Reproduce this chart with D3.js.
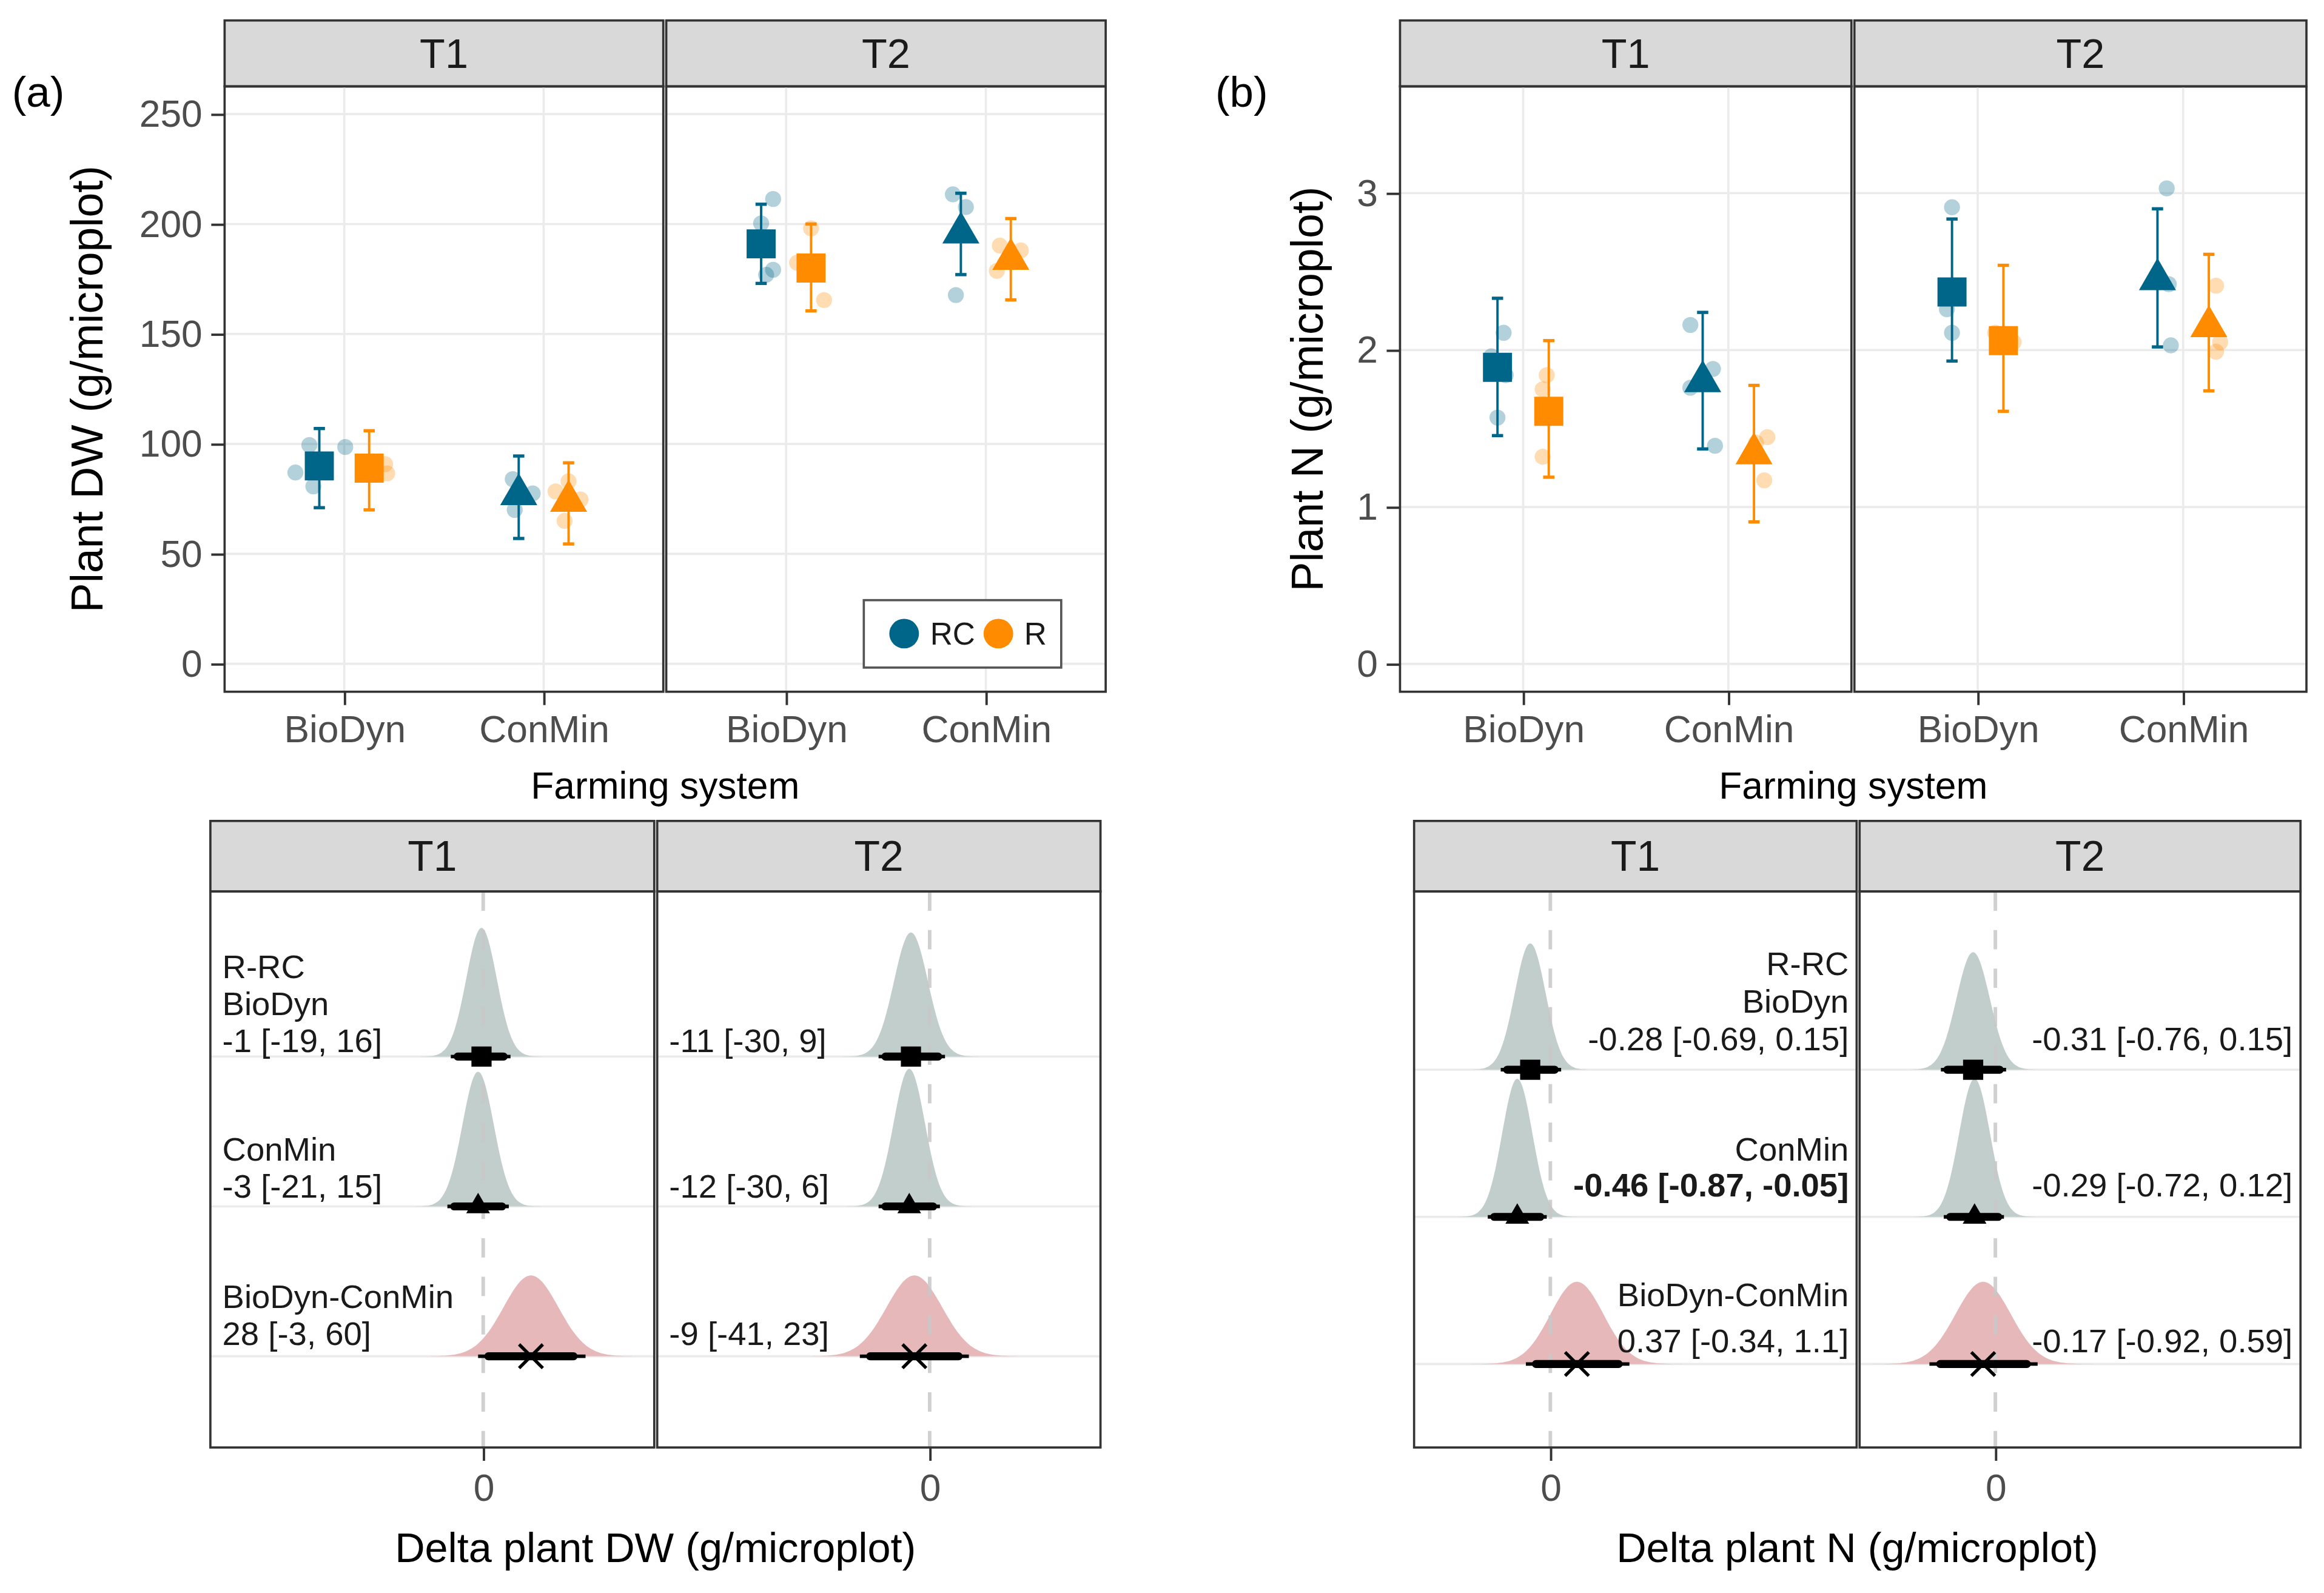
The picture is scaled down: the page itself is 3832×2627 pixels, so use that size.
<!DOCTYPE html>
<html>
<head>
<meta charset="utf-8">
<script src="https://cdn.jsdelivr.net/npm/d3@7"></script>
<style>
body { margin: 0; background: #fff; }
svg text { font-family: "Liberation Sans", Arial, sans-serif; }
</style>
</head>
<body>
<div id="chart"></div>
<script>
// ── Data ───────────────────────────────────────────────────────────────────
const TIMES = ["T1", "T2"];
const SYSTEMS = ["BioDyn", "ConMin"];
const TREATMENTS = ["RC", "R"];
const TREAT_COLORS = { RC: "#006689", R: "#ff8c00" };

// group order: T1 BioDyn RC, T1 BioDyn R, T1 ConMin RC, T1 ConMin R, then T2 same
const dwMean = [90, 89, 77, 74, 191, 180, 196, 184];
const dwLow = [71, 70, 57, 54.5, 173, 160.5, 177, 165.5];
const dwHigh = [107, 106, 94.5, 91.4, 209, 200, 214, 202.5];
const dwPoints = [
    [99.5, 87, 80.7, 98.6], [90.8, 86.6, 91], [84, 77.5, 70], [83, 78.4, 65, 74.7],
    [211.4, 200.3, 179.2, 176.9], [198, 165.4, 182.4], [213.5, 207.7, 167.7], [190.2, 178.7, 188],
];
const dwJitter = [
    [-0.05, -0.12, -0.03, 0.13], [0.08, 0.09, -0.02], [-0.03, 0.07, -0.02], [0, -0.065, -0.02, 0.06],
    [0.06, 0, 0.06, 0.025], [0, 0.065, -0.07], [-0.04, 0.025, -0.025], [-0.055, -0.07, 0.05],
];

const nMean = [1.89, 1.61, 1.8, 1.34, 2.37, 2.06, 2.45, 2.15];
const nLow = [1.455, 1.19, 1.37, 0.905, 1.93, 1.61, 2.02, 1.74];
const nHigh = [2.33, 2.06, 2.24, 1.775, 2.835, 2.54, 2.9, 2.61];
const nPoints = [
    [2.11, 1.57, 1.84, 1.96], [1.84, 1.32, 1.75], [2.16, 1.39, 1.88, 1.76], [1.445, 1.17, 1.41],
    [2.91, 2.11, 2.26], [2.11, 2.05, 2.02], [3.03, 2.03, 2.42], [2.41, 1.99, 2.05],
];
const nJitter = [
    [0.03, 0, 0.04, -0.03], [-0.01, -0.03, -0.03], [-0.06, 0.06, 0.05, -0.06], [0.065, 0.05, 0.01],
    [0, 0, -0.025], [-0.04, 0.05, 0], [0.045, 0.065, 0.055], [0.035, 0.035, 0.055],
];

// contrasts (rows top to bottom), one list per time
const CONTRASTS = ["R-RC BioDyn", "R-RC ConMin", "BioDyn-ConMin"];
const CONTRAST_PREFIX = [["R-RC", "BioDyn"], ["ConMin"], ["BioDyn-ConMin"]];
const dwDeltaEst = [[-1, -3, 28], [-11, -12, -9]];
const dwDeltaLow = [[-19, -21, -3], [-30, -30, -41]];
const dwDeltaHigh = [[16, 15, 60], [9, 6, 23]];
const dwDeltaInnerLow = [[-15, -17, 3], [-26, -26, -35]];
const dwDeltaInnerHigh = [[12, 11, 53], [5, 2, 17]];
const dwDeltaPeak = [[0.86, 0.9, 0.54], [0.83, 0.92, 0.54]];

const nDeltaEst = [[-0.28, -0.46, 0.37], [-0.31, -0.29, -0.17]];
const nDeltaLow = [[-0.69, -0.87, -0.34], [-0.76, -0.72, -0.92]];
const nDeltaHigh = [[0.15, -0.05, 1.1], [0.15, 0.12, 0.59]];
const nDeltaInnerLow = [[-0.6, -0.78, -0.2], [-0.67, -0.63, -0.77]];
const nDeltaInnerHigh = [[0.06, -0.14, 0.95], [0.06, 0.04, 0.44]];
const nDeltaPeak = [[0.86, 0.94, 0.56], [0.8, 0.94, 0.56]];

const dwTicks = [0, 50, 100, 150, 200, 250];
const nTicks = [0, 1, 2, 3];

// ── Setup ──────────────────────────────────────────────────────────────────
const svg = d3.select("#chart").append("svg")
    .attr("width", 3832).attr("height", 2627)
    .attr("viewBox", "0 0 1568 1075");
svg.append("rect").attr("width", 1568).attr("height", 1075).attr("fill", "#fff");

const TEXT_DARK = "#1a1a1a";
const TICK_GREY = "#4d4d4d";
const BORDER = "#333333";
const GRID = "#ebebeb";

function styleAxis(g, fontSize) {
    g.select(".domain").remove();
    g.selectAll(".tick line").attr("stroke", BORDER).attr("stroke-width", 1.6);
    g.selectAll(".tick text")
        .attr("fill", TICK_GREY)
        .attr("font-size", fontSize)
        .attr("font-family", "Liberation Sans, Arial, sans-serif");
}

function triPath(w) {
    // R's pch 17 proportions: centre sits 1/3 up from the base
    const xc = w / 2, r = xc / 0.866, yc = r / 2;
    return `M0,${-r}L${xc},${yc}L${-xc},${yc}Z`;
}

// ── Top panels (group means) ───────────────────────────────────────────────
function drawTop(cfg) {
    const top = 58.3, bottom = 466.8, stripTop = 13.8;
    const y = d3.scaleLinear().domain(cfg.yDomain).range([bottom, top]);

    TIMES.forEach((t, ti) => {
        const [x0, x1] = cfg.panelsX[ti];
        const x = d3.scaleLinear().domain([0.4, 2.6]).range([x0, x1]);
        const g = svg.append("g");

        g.append("rect").attr("x", x0).attr("y", stripTop)
            .attr("width", x1 - x0).attr("height", top - stripTop)
            .attr("fill", "#d9d9d9").attr("stroke", BORDER).attr("stroke-width", 1.5);
        g.append("text").attr("x", (x0 + x1) / 2).attr("y", stripTop + (top - stripTop) / 2)
            .attr("dy", "0.35em").attr("text-anchor", "middle")
            .attr("font-size", 28).attr("fill", TEXT_DARK).text(t);

        // grid
        g.selectAll(".hg").data(cfg.ticks).join("line")
            .attr("x1", x0).attr("x2", x1)
            .attr("y1", d => y(d)).attr("y2", d => y(d))
            .attr("stroke", GRID).attr("stroke-width", 1.5);
        g.selectAll(".vg").data([1, 2]).join("line")
            .attr("x1", d => x(d)).attr("x2", d => x(d))
            .attr("y1", top).attr("y2", bottom)
            .attr("stroke", GRID).attr("stroke-width", 1.5);

        SYSTEMS.forEach((s, si) => {
            TREATMENTS.forEach((tr, ri) => {
                const gi = ti * 4 + si * 2 + ri;
                const cx = si + 1 + (ri === 0 ? -0.125 : 0.125);
                const col = TREAT_COLORS[tr];

                cfg.points[gi].forEach((v, pi) => {
                    g.append("circle")
                        .attr("cx", x(cx + cfg.jitter[gi][pi]))
                        .attr("cy", y(v)).attr("r", 5.4)
                        .attr("fill", col).attr("fill-opacity", 0.3);
                });

                const px = x(cx);
                g.append("line").attr("x1", px).attr("x2", px)
                    .attr("y1", y(cfg.low[gi])).attr("y2", y(cfg.high[gi]))
                    .attr("stroke", col).attr("stroke-width", 1.6);
                [cfg.low[gi], cfg.high[gi]].forEach(v => {
                    g.append("line").attr("x1", px - 3.8).attr("x2", px + 3.8)
                        .attr("y1", y(v)).attr("y2", y(v))
                        .attr("stroke", col).attr("stroke-width", 2.2);
                });

                const shape = si === 0 ? d3.symbol(d3.symbolSquare, 19.6 * 19.6)() : triPath(25);
                g.append("path").attr("d", shape)
                    .attr("transform", `translate(${px},${y(cfg.mean[gi])})`)
                    .attr("fill", col);
            });
        });

        g.append("rect").attr("x", x0).attr("y", top)
            .attr("width", x1 - x0).attr("height", bottom - top)
            .attr("fill", "none").attr("stroke", BORDER).attr("stroke-width", 1.5);

        const xa = g.append("g").attr("transform", `translate(0,${bottom})`)
            .call(d3.axisBottom(x).tickValues([1, 2]).tickFormat(d => SYSTEMS[d - 1])
                .tickSize(9).tickPadding(7));
        styleAxis(xa, 25.5);

        if (ti === 0) {
            const ya = g.append("g").attr("transform", `translate(${x0},0)`)
                .call(d3.axisLeft(y).tickValues(cfg.ticks).tickFormat(d3.format("d"))
                    .tickSize(9).tickPadding(6));
            styleAxis(ya, 25.5);
        }
    });

    const [a0] = cfg.panelsX[0], [, b1] = cfg.panelsX[1];
    svg.append("text").attr("x", (a0 + b1) / 2).attr("y", 539)
        .attr("text-anchor", "middle").attr("font-size", 25.5).attr("fill", "#000")
        .text("Farming system");
    svg.append("text")
        .attr("transform", `translate(${cfg.yTitleX},${(top + bottom) / 2}) rotate(-90)`)
        .attr("text-anchor", "middle").attr("dy", "0.35em")
        .attr("font-size", 30).attr("fill", "#000").text(cfg.yTitle);
    svg.append("text").attr("x", cfg.tagX).attr("y", 72)
        .attr("font-size", 29).attr("fill", "#000").text(cfg.tag);
}

drawTop({
    tag: "(a)", tagX: 8, yTitle: "Plant DW (g/microplot)", yTitleX: 58.5,
    panelsX: [[151.5, 447.5], [449.5, 746]],
    yDomain: [-12.7, 262.6], ticks: dwTicks,
    mean: dwMean, low: dwLow, high: dwHigh, points: dwPoints, jitter: dwJitter,
});
drawTop({
    tag: "(b)", tagX: 820, yTitle: "Plant N (g/microplot)", yTitleX: 882,
    panelsX: [[944.6, 1249.2], [1251.2, 1556.2]],
    yDomain: [-0.177, 3.68], ticks: nTicks,
    mean: nMean, low: nLow, high: nHigh, points: nPoints, jitter: nJitter,
});

// legend inside (a) T2
const leg = svg.append("g");
leg.append("rect").attr("x", 582.8).attr("y", 405).attr("width", 133.2).attr("height", 45.5)
    .attr("fill", "#fff").attr("stroke", "#555").attr("stroke-width", 1.5);
[["RC", 610, 627.6], ["R", 673.6, 691]].forEach(([k, cx, tx]) => {
    leg.append("circle").attr("cx", cx).attr("cy", 427.6).attr("r", 10).attr("fill", TREAT_COLORS[k]);
    leg.append("text").attr("x", tx).attr("y", 427.6).attr("dy", "0.36em")
        .attr("font-size", 21).attr("fill", TEXT_DARK).text(k);
});

// ── Bottom panels (posterior contrasts) ────────────────────────────────────
function drawBottom(cfg) {
    const stripTop = 554, top = 601.6, bottom = 976.8;
    const y = d3.scaleLinear().domain(cfg.rowDomain).range([top, bottom]);
    const rowUnit = y(2) - y(1);

    TIMES.forEach((t, ti) => {
        const [x0, x1] = cfg.panelsX[ti];
        const x = d3.scaleLinear().domain(cfg.xDomain).range([x0, x1]);
        const g = svg.append("g");

        g.append("rect").attr("x", x0).attr("y", stripTop)
            .attr("width", x1 - x0).attr("height", top - stripTop)
            .attr("fill", "#d9d9d9").attr("stroke", BORDER).attr("stroke-width", 1.5);
        g.append("text").attr("x", (x0 + x1) / 2).attr("y", stripTop + (top - stripTop) / 2)
            .attr("dy", "0.35em").attr("text-anchor", "middle")
            .attr("font-size", 28.5).attr("fill", TEXT_DARK).text(t);

        g.selectAll(".hg").data([1, 2, 3]).join("line")
            .attr("x1", x0).attr("x2", x1)
            .attr("y1", d => y(d)).attr("y2", d => y(d))
            .attr("stroke", GRID).attr("stroke-width", 1.5);

        CONTRASTS.forEach((c, ri) => {
            const est = cfg.est[ti][ri], lo = cfg.low[ti][ri], hi = cfg.high[ti][ri];
            const ry = y(ri + 1);
            const sd = (hi - lo) / 3.92;
            const xs = d3.range(-4, 4.001, 0.1).map(z => est + z * sd);
            const h = cfg.peak[ti][ri] * rowUnit;
            const area = d3.area()
                .x(d => x(d))
                .y0(ry)
                .y1(d => ry - h * Math.exp(-0.5 * ((d - est) / sd) ** 2))
                .curve(d3.curveBasis);
            g.append("path").datum(xs).attr("d", area)
                .attr("fill", ri === 2 ? "#e6b8ba" : "#c1cecb");
        });

        // dashed zero line
        g.append("line").attr("x1", x(0)).attr("x2", x(0))
            .attr("y1", top).attr("y2", bottom)
            .attr("stroke", "#c8c8c8").attr("stroke-opacity", 0.85)
            .attr("stroke-width", 2.4).attr("stroke-dasharray", "13,13");

        CONTRASTS.forEach((c, ri) => {
            const est = cfg.est[ti][ri], lo = cfg.low[ti][ri], hi = cfg.high[ti][ri];
            const ry = y(ri + 1);
            g.append("line").attr("x1", x(lo)).attr("x2", x(hi)).attr("y1", ry).attr("y2", ry)
                .attr("stroke", "#000").attr("stroke-width", 2.4);
            g.append("line").attr("x1", x(cfg.innerLow[ti][ri])).attr("x2", x(cfg.innerHigh[ti][ri]))
                .attr("y1", ry).attr("y2", ry)
                .attr("stroke", "#000").attr("stroke-width", 5.4).attr("stroke-linecap", "round");
            const px = x(est);
            if (ri === 0) {
                g.append("path").attr("d", d3.symbol(d3.symbolSquare, 13.6 * 13.6)())
                    .attr("transform", `translate(${px},${ry})`).attr("fill", "#000");
            } else if (ri === 1) {
                g.append("path").attr("d", triPath(16))
                    .attr("transform", `translate(${px},${ry})`).attr("fill", "#000");
            } else {
                g.append("path").attr("d", "M-8,-8L8,8M-8,8L8,-8")
                    .attr("transform", `translate(${px},${ry})`)
                    .attr("stroke", "#000").attr("stroke-width", 2.2).attr("fill", "none");
            }

            // labels
            const lines = (ti === 0 ? CONTRAST_PREFIX[ri] : []).concat([`${est} [${lo}, ${hi}]`]);
            const bold = hi < 0 || lo > 0;
            const n = lines.length;
            lines.forEach((txt, li) => {
                const off = cfg.labelLast[ri] - (n - 1 - li) * cfg.labelGap[ri];
                g.append("text")
                    .attr("x", x(cfg.labelX)).attr("y", ry + off)
                    .attr("text-anchor", cfg.labelAnchor)
                    .attr("font-size", 22.3).attr("fill", TEXT_DARK)
                    .attr("font-weight", bold && li === n - 1 ? "bold" : "normal")
                    .text(txt);
            });
        });

        g.append("rect").attr("x", x0).attr("y", top)
            .attr("width", x1 - x0).attr("height", bottom - top)
            .attr("fill", "none").attr("stroke", BORDER).attr("stroke-width", 1.5);

        const xa = g.append("g").attr("transform", `translate(0,${bottom})`)
            .call(d3.axisBottom(x).tickValues([0]).tickFormat(d3.format("d"))
                .tickSize(9).tickPadding(9));
        styleAxis(xa, 25.5);
    });

    const [a0] = cfg.panelsX[0], [, b1] = cfg.panelsX[1];
    svg.append("text").attr("x", (a0 + b1) / 2).attr("y", 1054)
        .attr("text-anchor", "middle").attr("font-size", 28).attr("fill", "#000")
        .text(cfg.title);
}

drawBottom({
    title: "Delta plant DW (g/microplot)",
    panelsX: [[141.9, 441.4], [443.4, 742.5]],
    xDomain: [-160, 100.3], rowDomain: [-0.102, 3.609],
    est: dwDeltaEst, low: dwDeltaLow, high: dwDeltaHigh,
    innerLow: dwDeltaInnerLow, innerHigh: dwDeltaInnerHigh, peak: dwDeltaPeak,
    labelX: -153, labelAnchor: "start",
    labelLast: [-3, -6, -7.5], labelGap: [25, 25, 25],
});
drawBottom({
    title: "Delta plant N (g/microplot)",
    panelsX: [[954.1, 1252.7], [1254.7, 1552.2]],
    xDomain: [-1.895, 4.26], rowDomain: [-0.211, 3.567],
    est: nDeltaEst, low: nDeltaLow, high: nDeltaHigh,
    innerLow: nDeltaInnerLow, innerHigh: nDeltaInnerHigh, peak: nDeltaPeak,
    labelX: 4.15, labelAnchor: "end",
    labelLast: [-13, -14, -8], labelGap: [25.5, 24, 31],
});
</script>
</body>
</html>
